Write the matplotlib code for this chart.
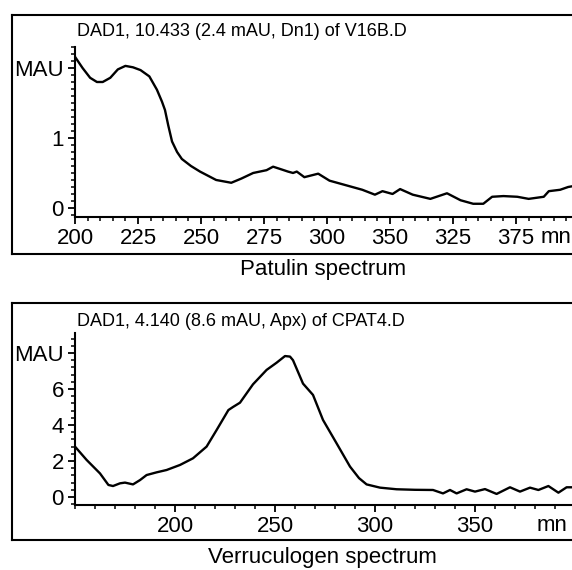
import matplotlib
matplotlib.use("Agg")
import matplotlib.pyplot as plt
from matplotlib.ticker import MultipleLocator, FixedLocator
from matplotlib.lines import Line2D

plt.rcParams['font.family'] = ['Liberation Sans', 'DejaVu Sans']

# ---- Patulin spectrum (top) ----
pat_title = "DAD1, 10.433 (2.4 mAU, Dn1) of V16B.D"
pat_caption = "Patulin spectrum"
pat_wl = [200, 203, 206, 208.7, 211, 214, 217, 220, 223, 226, 229.5, 232.5, 234.5, 235.7, 237, 238.5,
          240.5, 242.4, 246, 249.6, 256, 262, 266, 270.7, 276, 278.6, 282, 284.5, 286.5,
          288, 291, 296.5, 301, 308, 314, 319, 322, 326, 329, 334, 341, 347.6, 353,
          358, 362, 365.5, 370, 375.5, 380, 386, 388, 392.5, 395.7, 397.3]
pat_mau = [2.16, 2.0, 1.86, 1.80, 1.80, 1.86, 1.98, 2.03, 2.01, 1.97, 1.88, 1.69, 1.52, 1.40, 1.18, 0.95,
           0.80, 0.70, 0.60, 0.52, 0.40, 0.36, 0.42, 0.50, 0.54, 0.59, 0.55, 0.52, 0.50,
           0.52, 0.44, 0.49, 0.39, 0.32, 0.26, 0.19, 0.24, 0.20, 0.27, 0.19, 0.13, 0.21, 0.11,
           0.06, 0.06, 0.16, 0.17, 0.16, 0.13, 0.16, 0.24, 0.26, 0.30, 0.31]
pat_xticks = [200, 225, 250, 275, 300, 325, 350, 375]
pat_xlabels = ["200", "225", "250", "275", "300", "350", "325", "375"]
pat_yticks = [0, 1, 2]
pat_ylabels = ["0", "1", "MAU"]

# ---- Verruculogen spectrum (bottom) ----
ver_title = "DAD1, 4.140 (8.6 mAU, Apx) of CPAT4.D"
ver_caption = "Verruculogen spectrum"
ver_wl = [150, 155.8, 162.5, 166.7, 169, 172.5, 175, 179, 182.5, 185.8, 190.8, 195.8, 202.5,
          209, 215.8, 220.8, 226.7, 229, 232.5, 239, 245.8, 250.8, 255, 257.5, 259, 264,
          269, 274, 280.8, 287.5, 292, 295.8, 302.5, 310.8, 320, 329, 334, 337.5, 340.8,
          345.8, 350, 355, 360.8, 367.5, 372.5, 377.5, 381.7, 386.7, 391.7, 395.8, 398.5]
ver_mau = [2.8, 2.06, 1.31, 0.67, 0.61, 0.76, 0.80, 0.70, 0.94, 1.22, 1.37, 1.50, 1.78,
           2.15, 2.8, 3.72, 4.83, 5.0, 5.24, 6.26, 7.06, 7.46, 7.83, 7.80, 7.6, 6.3,
           5.67, 4.28, 2.98, 1.69, 1.05, 0.70, 0.52, 0.43, 0.40, 0.39, 0.20, 0.39, 0.20,
           0.43, 0.30, 0.44, 0.17, 0.54, 0.30, 0.52, 0.39, 0.61, 0.24, 0.54, 0.54]
ver_xticks = [200, 250, 300, 350]
ver_xlabels = ["200", "250", "300", "350"]
ver_yticks = [0, 2, 4, 6, 8]
ver_ylabels = ["0", "2", "4", "6", "MAU"]

W, H = 572, 570
fig = plt.figure(figsize=(W / 100, H / 100), dpi=100)

def fx(px):
    return px / W

def fy(py):
    return 1 - py / H

def style_axes(ax):
    for s in ['top', 'right']:
        ax.spines[s].set_visible(False)
    for s in ['left', 'bottom']:
        ax.spines[s].set_linewidth(1.5)
    ax.tick_params(which='major', direction='out', length=5, width=1.3,
                   labelsize=16, pad=3)
    ax.tick_params(which='minor', direction='out', length=3, width=1.1)
    ax.set_facecolor('none')

# top panel
ax1 = fig.add_axes([fx(75), fy(217), fx(572) - fx(75), fy(47) - fy(217)])
ax1.plot(pat_wl, pat_mau, color='black', lw=1.7, solid_joinstyle='round')
ax1.set_xlim(200, 397.2)
ax1.set_ylim(-0.129, 2.30)
ax1.xaxis.set_major_locator(FixedLocator(pat_xticks))
ax1.set_xticklabels(pat_xlabels)
ax1.xaxis.set_minor_locator(MultipleLocator(5))
ax1.yaxis.set_major_locator(FixedLocator(pat_yticks))
ax1.set_yticklabels(pat_ylabels)
ax1.yaxis.set_minor_locator(MultipleLocator(0.1))
style_axes(ax1)
ax1.text(0.9375, -0.06, "mn", transform=ax1.transAxes, ha='left', va='top',
         fontsize=16, clip_on=False)

# bottom panel
ax2 = fig.add_axes([fx(75), fy(505), fx(572) - fx(75), fy(333) - fy(505)])
ax2.plot(ver_wl, ver_mau, color='black', lw=1.7, solid_joinstyle='round')
ax2.set_xlim(150, 398.5)
ax2.set_ylim(-0.444, 9.11)
ax2.xaxis.set_major_locator(FixedLocator(ver_xticks))
ax2.set_xticklabels(ver_xlabels)
ax2.xaxis.set_minor_locator(MultipleLocator(10))
ax2.yaxis.set_major_locator(FixedLocator(ver_yticks))
ax2.set_yticklabels(ver_ylabels)
ax2.yaxis.set_minor_locator(MultipleLocator(0.4))
style_axes(ax2)
ax2.text(0.9296, -0.06, "mn", transform=ax2.transAxes, ha='left', va='top',
         fontsize=16, clip_on=False)

# titles inside frames
fig.text(fx(77), fy(32), pat_title, fontsize=13, ha='left', va='center')
fig.text(fx(77), fy(322), ver_title, fontsize=13, ha='left', va='center')

# captions
fig.text(fx(323), fy(270), pat_caption, fontsize=16, ha='center', va='center')
fig.text(fx(322), fy(557), ver_caption, fontsize=16, ha='center', va='center')

# frames (open on the right)
def frame(top, bottom, left=12):
    kw = dict(color='black', lw=1.5, transform=fig.transFigure)
    fig.add_artist(Line2D([fx(left), 1.0], [fy(top), fy(top)], **kw))
    fig.add_artist(Line2D([fx(left), 1.0], [fy(bottom), fy(bottom)], **kw))
    fig.add_artist(Line2D([fx(left), fx(left)], [fy(top), fy(bottom)], **kw))

frame(15, 254)
frame(303, 540)

fig.savefig("out.png", dpi=100)
